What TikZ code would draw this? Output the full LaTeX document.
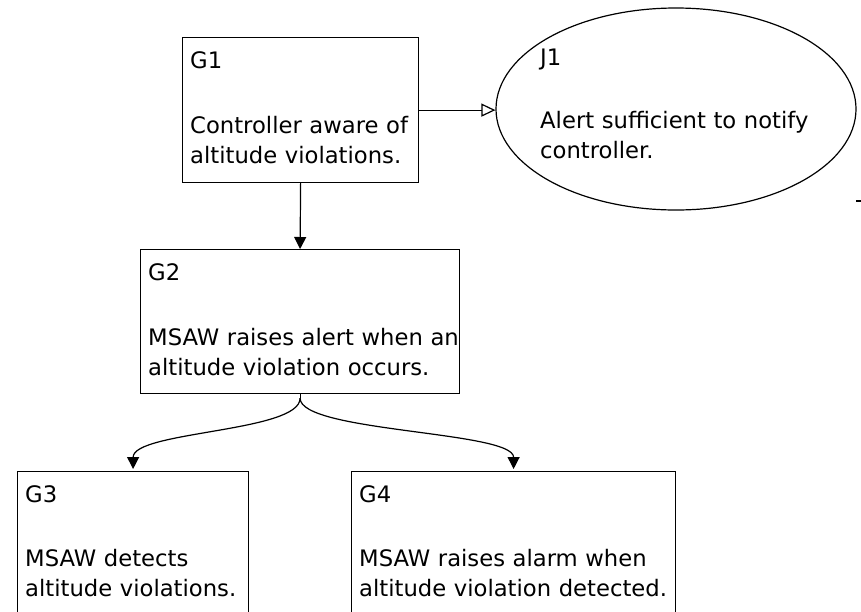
\documentclass[tikz,border=0pt]{standalone}
\usepackage{fontspec}
\setmainfont{DejaVu Sans}
\usetikzlibrary{arrows.meta,shapes.geometric,calc}

\tikzset{
  goal/.style={draw, rectangle, line width=1.2pt, anchor=north west, inner sep=0pt},
  just/.style={draw, ellipse, line width=1.2pt, inner sep=0pt},
  gtext/.style={anchor=base west, inner sep=0pt, text width=330pt, align=left,
    font=\fontsize{22.7pt}{30pt}\selectfont},
  solidlink/.style={line width=1.2pt, -{Triangle[length=12pt,width=12pt]}},
  openlink/.style={line width=1.2pt, -{Triangle[open,length=14pt,width=13pt]}}
}

\begin{document}
\begin{tikzpicture}[x=1pt,y=-1pt]
  \useasboundingbox (0,0) rectangle (861,611);
  \clip (0,0) rectangle (861,611);

  % goal boxes
  \node[goal, minimum width=236pt, minimum height=145pt] (g1) at (182,37) {};
  \node[goal, minimum width=319pt, minimum height=144pt] (g2) at (140,249) {};
  \node[goal, minimum width=231pt, minimum height=170pt] (g3) at (17,471) {};
  \node[goal, minimum width=324pt, minimum height=170pt] (g4) at (351,471) {};

  % justification
  \node[just, minimum width=360pt, minimum height=202pt] (j1) at (676,109) {};

  % texts
  \node[gtext] (t1) at ([shift={(8,31)}]g1.north west)
    {G1\\[35pt]Controller aware of\\altitude violations.};
  \node[gtext] (t2) at ([shift={(8,31)}]g2.north west)
    {G2\\[35pt]MSAW raises alert when an\\altitude violation occurs.};
  \node[gtext] (t3) at ([shift={(8,31)}]g3.north west)
    {G3\\[34pt]MSAW detects\\altitude violations.};
  \node[gtext] (t4) at ([shift={(8,31)}]g4.north west)
    {G4\\[34pt]MSAW raises alarm when\\altitude violation detected.};
  \node[gtext] (tj) at (540,65)
    {J1\\[33pt]Alert sufficient to notify\\controller.};

  % connectors
  \draw[openlink] (g1.east) -- (g1.east -| j1.west);
  \draw[solidlink] (g1.south) -- (g2.north);
  \coordinate (fork) at ([yshift=-4pt]g2.south);
  \draw[line width=1.2pt] (g2.south) -- (fork);
  \draw[solidlink, shorten >=2pt] (fork) .. controls ([yshift=-34pt]fork) and ([yshift=40pt]g3.north) .. (g3.north);
  \draw[solidlink, shorten >=2pt] (fork) .. controls ([yshift=-34pt]fork) and ([yshift=40pt]g4.north) .. (g4.north);

  % small stray mark at the right edge
  \coordinate (tickA) at (856,201);
  \coordinate (tickB) at (861,201);
  \draw[line width=1.2pt] (tickA) -- (tickB);
\end{tikzpicture}
\end{document}
